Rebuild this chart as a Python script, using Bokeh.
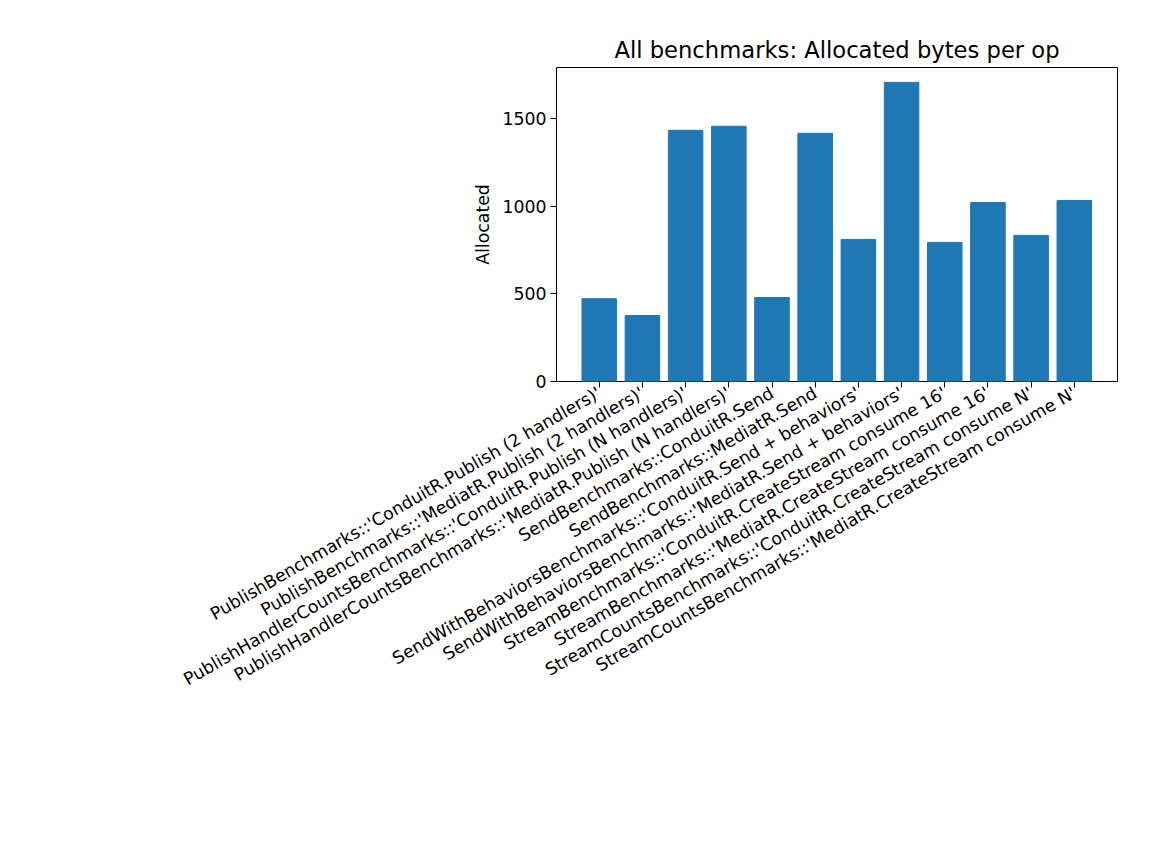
import math
from bokeh.plotting import figure
from bokeh.models import FixedTicker, Range1d
from bokeh.embed import file_html
from bokeh.resources import INLINE

names = [
    "PublishBenchmarks::'ConduitR.Publish (2 handlers)'",
    "PublishBenchmarks::'MediatR.Publish (2 handlers)'",
    "PublishHandlerCountsBenchmarks::'ConduitR.Publish (N handlers)'",
    "PublishHandlerCountsBenchmarks::'MediatR.Publish (N handlers)'",
    "SendBenchmarks::ConduitR.Send",
    "SendBenchmarks::MediatR.Send",
    "SendWithBehaviorsBenchmarks::'ConduitR.Send + behaviors'",
    "SendWithBehaviorsBenchmarks::'MediatR.Send + behaviors'",
    "StreamBenchmarks::'ConduitR.CreateStream consume 16'",
    "StreamBenchmarks::'MediatR.CreateStream consume 16'",
    "StreamCountsBenchmarks::'ConduitR.CreateStream consume N'",
    "StreamCountsBenchmarks::'MediatR.CreateStream consume N'",
]
allocated = [472, 376, 1432, 1455, 479, 1415, 810, 1705, 793, 1020, 833, 1032]
xs = list(range(len(names)))

FONT = "DejaVu Sans"

p = figure(width=1144, height=856, output_backend="svg", toolbar_location=None,
           title="All benchmarks: Allocated bytes per op",
           x_range=Range1d(-0.99, 12.0), y_range=Range1d(0, 1790),
           min_border_left=556, min_border_right=27, min_border_top=67, min_border_bottom=475)
p.vbar(x=xs, top=allocated, width=0.8, color="#1f77b4")

p.title.text_font = FONT
p.title.text_font_size = "17pt"
p.title.text_font_style = "normal"
p.title.text_color = "black"
p.title.align = "center"

p.xaxis.ticker = FixedTicker(ticks=xs)
p.xaxis.major_label_overrides = {i: n for i, n in enumerate(names)}
p.xaxis.major_label_orientation = math.pi / 6
p.yaxis.ticker = FixedTicker(ticks=[0, 500, 1000, 1500])
p.yaxis.axis_label = "Allocated"
p.yaxis.axis_label_standoff = 6
for ax in (p.xaxis, p.yaxis):
    ax.major_label_text_font = FONT
    ax.major_label_text_font_size = "13pt"
    ax.major_label_text_color = "black"
    ax.major_label_standoff = 4
    ax.axis_label_text_font = FONT
    ax.axis_label_text_font_size = "13pt"
    ax.axis_label_text_font_style = "normal"
    ax.axis_label_text_color = "black"
    ax.minor_tick_line_color = None
    ax.major_tick_line_color = "black"
    ax.major_tick_out = 6
    ax.major_tick_in = 0
    ax.axis_line_color = None
p.xgrid.visible = False
p.ygrid.visible = False
p.outline_line_color = "black"
p.outline_line_alpha = 1
p.background_fill_color = "white"

open("out.html", "w").write(file_html(p, INLINE))
